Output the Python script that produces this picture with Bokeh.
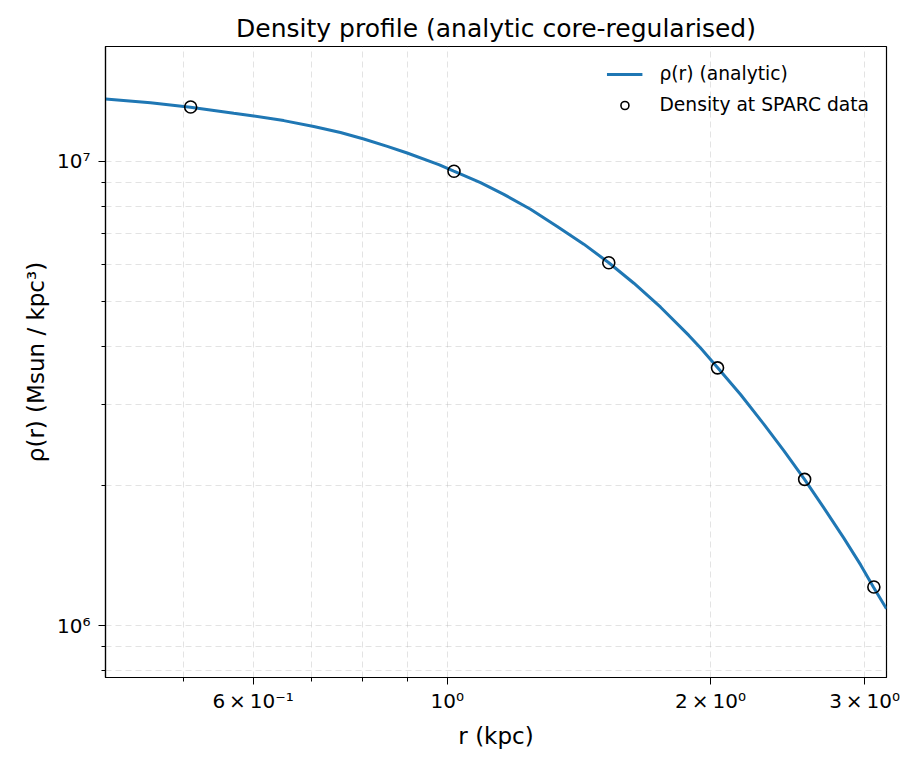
from bokeh.plotting import figure
from bokeh.models import FixedTicker, Range1d, Legend, LegendItem
from bokeh.embed import file_html
from bokeh.resources import INLINE

# analytic curve
r_curve = [0.4068, 0.4579, 0.5087, 0.5702, 0.6010, 0.6503, 0.7038, 0.7551, 0.8028,
           0.8541, 0.9000, 0.9781, 1.0175, 1.0916, 1.1606, 1.2452, 1.3358, 1.4326,
           1.5302, 1.6345, 1.7536, 1.8889, 1.9482, 2.0391, 2.1643, 2.3009, 2.4253,
           2.5614, 2.6949, 2.8405, 2.9690, 3.0700, 3.178]
rho_curve = [1.3614e7, 1.3368e7, 1.3067e7, 1.2689e7, 1.2520e7, 1.2236e7, 1.1880e7, 1.1535e7, 1.1166e7,
             1.0767e7, 1.0421e7, 9.839e6, 9.520e6, 8.993e6, 8.489e6, 7.885e6, 7.2408e6, 6.631e6,
             6.046e6, 5.4625e6, 4.849e6, 4.217e6, 3.9597e6, 3.5888e6, 3.145e6, 2.7153e6, 2.3817e6,
             2.065e6, 1.7932e6, 1.5433e6, 1.3513e6, 1.2115e6, 1.0867e6]

# SPARC data points
r_data = [0.509, 1.018, 1.530, 2.037, 2.562, 3.074]
rho_data = [1.309e7, 9.52e6, 6.046e6, 3.59e6, 2.065e6, 1.211e6]

x_major = [0.6, 1.0, 2.0, 3.0]
x_minor = [0.5, 0.7, 0.8, 0.9]
x_labels = {0.6: "6\u2009×\u200910⁻¹", 1.0: "10⁰", 2.0: "2\u2009×\u200910⁰", 3.0: "3\u2009×\u200910⁰"}
y_major = [1e6, 1e7]
y_minor = [8e5, 9e5, 2e6, 3e6, 4e6, 5e6, 6e6, 7e6, 8e6, 9e6]
y_labels = {1e6: "10⁶", 1e7: "10⁷"}

FONT = "DejaVu Sans"

p = figure(width=901, height=751, x_axis_type="log", y_axis_type="log",
           x_range=Range1d(0.4068, 3.178), y_range=Range1d(7.73e5, 1.767e7),
           output_backend="svg", toolbar_location=None,
           min_border_left=105, min_border_right=15, min_border_top=46, min_border_bottom=69,
           title="Density profile (analytic core-regularised)")

p.title.align = "center"
p.title.text_font = FONT
p.title.text_font_size = "25px"
p.title.text_font_style = "normal"
p.title.text_color = "black"
p.title.standoff = 7

p.outline_line_color = "black"
p.outline_line_width = 1.2
p.background_fill_color = "white"
p.border_fill_color = "white"

for ax in (p.xaxis[0], p.yaxis[0]):
    ax.axis_line_color = "black"
    ax.axis_line_width = 1.2
    ax.major_tick_line_color = "black"
    ax.minor_tick_line_color = "black"
    ax.major_tick_out = 7
    ax.major_tick_in = 0
    ax.minor_tick_out = 4
    ax.minor_tick_in = 0
    ax.major_label_text_font = FONT
    ax.major_label_text_font_size = "20px"
    ax.major_label_text_color = "black"
    ax.axis_label_text_font = FONT
    ax.axis_label_text_font_size = "23px"
    ax.axis_label_text_font_style = "normal"
    ax.axis_label_text_color = "black"

p.xaxis.ticker = FixedTicker(ticks=x_major, minor_ticks=x_minor)
p.yaxis.ticker = FixedTicker(ticks=y_major, minor_ticks=y_minor)
p.xaxis.major_label_overrides = x_labels
p.yaxis.major_label_overrides = y_labels
p.xaxis.axis_label = "r (kpc)"
p.yaxis.axis_label = "ρ(r) (Msun / kpc³)"
p.xaxis.major_label_standoff = 4
p.yaxis.major_label_standoff = 8
p.xaxis.axis_label_standoff = 7
p.yaxis.axis_label_standoff = 5

for g in (p.xgrid[0], p.ygrid[0]):
    g.grid_line_color = "#b0b0b0"
    g.grid_line_alpha = 0.35
    g.grid_line_dash = "6 4"
    g.grid_line_width = 1
    g.minor_grid_line_color = "#b0b0b0"
    g.minor_grid_line_alpha = 0.35
    g.minor_grid_line_dash = "6 4"
    g.minor_grid_line_width = 1

line = p.line(r_curve, rho_curve, line_color="#1f77b4", line_width=3)
pts = p.scatter(r_data, rho_data, size=12, marker="circle", fill_alpha=0,
                line_color="black", line_width=1.6)

legend = Legend(items=[LegendItem(label="ρ(r) (analytic)", renderers=[line]),
                       LegendItem(label="Density at SPARC data", renderers=[pts])],
                location="top_right")
legend.border_line_alpha = 0
legend.background_fill_alpha = 0
legend.label_text_font = FONT
legend.label_text_font_size = "18.7px"
legend.label_text_color = "black"
legend.glyph_width = 36
legend.glyph_height = 20
legend.label_height = 20
legend.label_standoff = 17
legend.spacing = 10
legend.padding = 8
legend.margin = 9
p.add_layout(legend)

open("out.html", "w").write(file_html(p, INLINE))
